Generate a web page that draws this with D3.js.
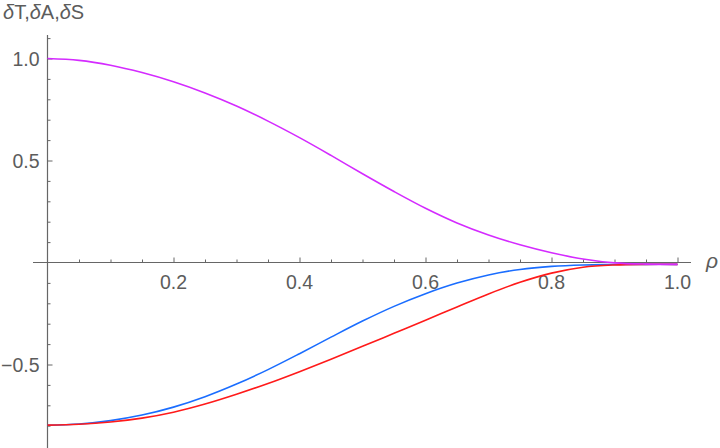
<!DOCTYPE html>
<html><head><meta charset="utf-8">
<script src="https://cdn.jsdelivr.net/npm/d3@7"></script>
<style>body{margin:0;background:#fff}svg{display:block}</style>
</head><body><svg id="c" width="720" height="448"></svg>
<script>
const rho = [0,0.05,0.1,0.15,0.2,0.25,0.3,0.35,0.4,0.45,0.5,0.55,0.6,0.65,0.7,0.75,0.8,0.85,0.9,0.95,1.0];
const deltaS = [1.0,0.991,0.967,0.931,0.886,0.831,0.767,0.693,0.612,0.525,0.435,0.348,0.266,0.194,0.135,0.087,0.048,0.017,-0.002,-0.008,-0.009];
const deltaA = [-0.798,-0.792,-0.775,-0.748,-0.709,-0.658,-0.596,-0.525,-0.447,-0.366,-0.287,-0.215,-0.153,-0.101,-0.061,-0.034,-0.019,-0.012,-0.010,-0.009,-0.009];
const deltaT = [-0.797,-0.793,-0.782,-0.763,-0.734,-0.694,-0.646,-0.593,-0.535,-0.474,-0.411,-0.347,-0.283,-0.218,-0.154,-0.097,-0.052,-0.023,-0.012,-0.009,-0.009];
const xMajor = [0.2,0.4,0.6,0.8,1.0];
const yMajor = [-0.5,0.5,1.0];

const svg = d3.select("#c");
const x = d3.scaleLinear().domain([0,1]).range([47.5,677.5]);
const y = d3.scaleLinear().domain([0,1]).range([262.5,58.5]);
const axisColor = "#666";
const textColor = "#5c5c5c";
const font = "'Liberation Sans', Arial, sans-serif";
const fs = 19.5;

// x axis
const xMinor = d3.range(1,21).map(v=>v/20).filter(v=>!xMajor.some(m=>Math.abs(m-v)<1e-6));
const gx = svg.append("g").attr("transform",`translate(0,${y(0)})`);
gx.append("line").attr("x1",33).attr("x2",691).attr("stroke",axisColor).attr("stroke-width",1.2);
gx.append("g").call(d3.axisTop(x).tickValues(xMinor).tickSize(3).tickFormat("")).call(a=>{a.select(".domain").remove();a.selectAll("line").attr("stroke",axisColor);});
gx.append("g").call(d3.axisTop(x).tickValues(xMajor).tickSize(5).tickFormat("")).call(a=>{a.select(".domain").remove();a.selectAll("line").attr("stroke",axisColor);});
gx.selectAll(".xl").data(xMajor).join("text").attr("class","xl")
  .attr("x",d=>x(d)).attr("y",26.5).attr("text-anchor","middle")
  .attr("font-family",font).attr("font-size",fs).attr("fill",textColor)
  .text(d=>d.toFixed(1));

// y axis
const yMinorVals = d3.range(-8,12).map(v=>v/10).filter(v=>Math.abs(v)>1e-6 && !yMajor.some(m=>Math.abs(m-v)<1e-6));
const gy = svg.append("g").attr("transform",`translate(${x(0)},0)`);
gy.append("line").attr("y1",35).attr("y2",448).attr("stroke",axisColor).attr("stroke-width",1.2);
gy.append("g").call(d3.axisRight(y).tickValues(yMinorVals).tickSize(3).tickFormat("")).call(a=>{a.select(".domain").remove();a.selectAll("line").attr("stroke",axisColor);});
gy.append("g").call(d3.axisRight(y).tickValues(yMajor).tickSize(5).tickFormat("")).call(a=>{a.select(".domain").remove();a.selectAll("line").attr("stroke",axisColor);});
gy.selectAll(".yl").data(yMajor).join("text").attr("class","yl")
  .attr("x",-8).attr("y",d=>y(d)).attr("dy","0.36em").attr("text-anchor","end")
  .attr("font-family",font).attr("font-size",fs).attr("fill",textColor)
  .text(d=>d<0 ? "\u2212"+Math.abs(d).toFixed(1) : d.toFixed(1));

// labels
const tl = svg.append("text").attr("x",3).attr("y",18.5).attr("font-family",font).attr("font-size",20).attr("fill",textColor);
["T","A","S"].forEach((s,i)=>{
  tl.append("tspan").attr("font-style","italic").text("\u03b4");
  tl.append("tspan").text(s + (i<2?",":""));
});
svg.append("text").attr("x",706).attr("y",268).attr("font-family",font).attr("font-style","italic")
  .attr("font-size",21).attr("fill",textColor).text("\u03c1");

// curves
const line = d3.line().x((d,i)=>x(rho[i])).y(d=>y(d)).curve(d3.curveCatmullRom.alpha(0.5));
const series = [
  {v:deltaA, c:"#1a6dff"},
  {v:deltaT, c:"#ff1a1a"},
  {v:deltaS, c:"#d42bff"}
];
svg.selectAll(".crv").data(series).join("path").attr("class","crv")
  .attr("d",d=>line(d.v)).attr("fill","none").attr("stroke",d=>d.c).attr("stroke-width",1.6);
</script></body></html>
